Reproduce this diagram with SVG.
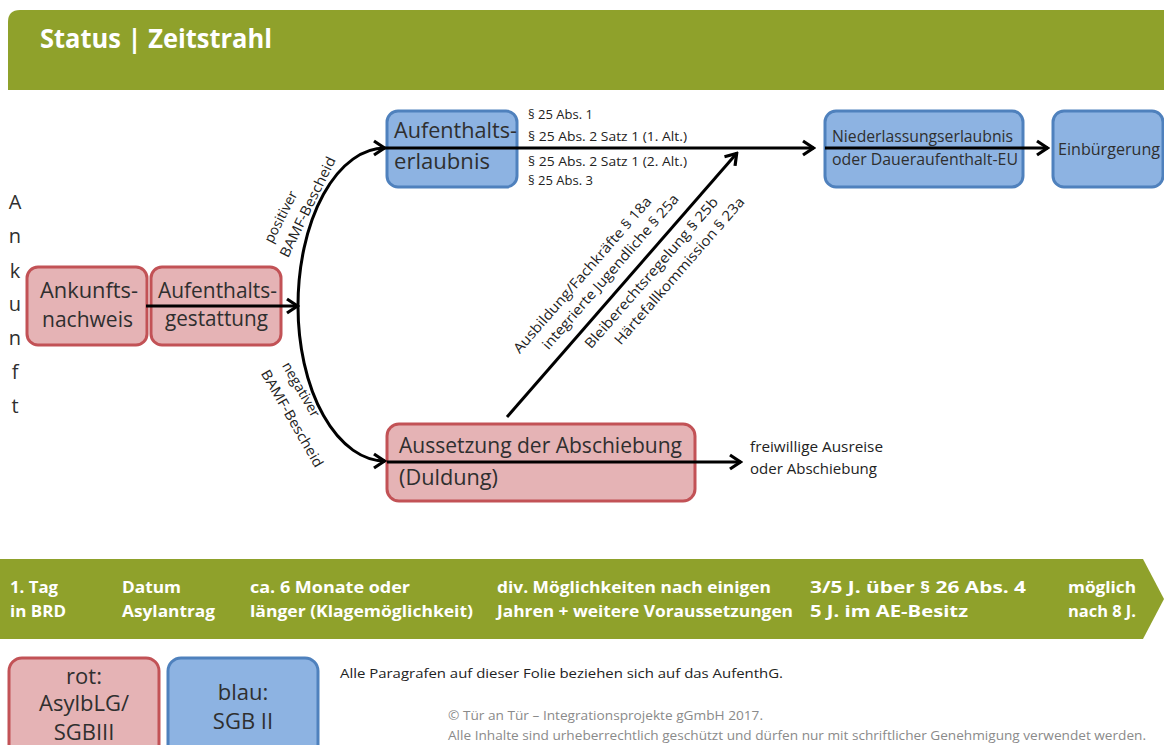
<svg xmlns="http://www.w3.org/2000/svg" width="1164" height="745" viewBox="0 0 1164 745">
<style>
text{font-family:"Open Sans","Noto Sans","Liberation Sans",sans-serif;fill:#2f2f2f}
.red{fill:#E5B3B5;stroke:#C25256;stroke-width:3}
.blue{fill:#8DB3E2;stroke:#4F81BD;stroke-width:3}
.box{font-size:21px}
.par{font-size:13px;fill:#222}
.rot{font-size:14px;fill:#222}
.band{font-size:16px;font-weight:bold;fill:#fff}
.con{fill:none;stroke:#000;stroke-width:3}
.leg{font-size:22px;text-anchor:middle}
.copy{font-size:12.5px;fill:#8a8a8a}
</style>
<defs>
<marker id="arr" viewBox="0 0 16 18" refX="14" refY="9" markerWidth="16" markerHeight="18" orient="auto" markerUnits="userSpaceOnUse">
<path d="M3,2 L13.5,9 L3,16" fill="none" stroke="#000" stroke-width="3.2"/>
</marker>
</defs>
<rect width="1164" height="745" fill="#fff"/>
<g id="header">
<path d="M8,90 L8,22 Q8,10 20,10 L1164,10 L1164,90 Z" fill="#8FA12B"/>
<text x="40" y="48" font-size="27" font-weight="bold" style="fill:#fff" textLength="232" lengthAdjust="spacingAndGlyphs">Status | Zeitstrahl</text>
</g>
<g id="ankunft" font-size="20" text-anchor="middle">
<text x="15" y="209">A</text>
<text x="15" y="243">n</text>
<text x="15" y="278">k</text>
<text x="15" y="311">u</text>
<text x="15" y="345">n</text>
<text x="15" y="379">f</text>
<text x="15" y="413">t</text>
</g>
<g id="n-ankunftsnachweis">
<rect class="red" x="27" y="267" width="120" height="78" rx="11"/>
<text class="box" x="40" y="298" textLength="98" lengthAdjust="spacingAndGlyphs">Ankunfts-</text>
<text class="box" x="42" y="327" textLength="91" lengthAdjust="spacingAndGlyphs">nachweis</text>
</g>
<g id="n-aufenthaltsgestattung">
<rect class="red" x="151" y="267" width="130" height="78" rx="11"/>
<text class="box" x="158" y="298" textLength="119" lengthAdjust="spacingAndGlyphs">Aufenthalts-</text>
<text class="box" x="165" y="326" textLength="103" lengthAdjust="spacingAndGlyphs">gestattung</text>
</g>
<g id="n-aufenthaltserlaubnis">
<rect class="blue" x="387" y="111" width="130" height="76" rx="11"/>
<text class="box" x="394" y="138" textLength="123" lengthAdjust="spacingAndGlyphs">Aufenthalts-</text>
<text class="box" x="394" y="169" textLength="96" lengthAdjust="spacingAndGlyphs">erlaubnis</text>
</g>
<g id="n-niederlassung">
<rect class="blue" x="825" y="111" width="198" height="76" rx="11"/>
<text x="832" y="142" font-size="16" textLength="181" lengthAdjust="spacingAndGlyphs">Niederlassungserlaubnis</text>
<text x="832" y="165" font-size="16" textLength="186" lengthAdjust="spacingAndGlyphs">oder Daueraufenthalt-EU</text>
</g>
<g id="n-einbuergerung">
<rect class="blue" x="1053" y="111" width="110" height="76" rx="11"/>
<text x="1058" y="155" font-size="16" textLength="102" lengthAdjust="spacingAndGlyphs">Einbürgerung</text>
</g>
<g id="n-duldung">
<rect class="red" x="387" y="424" width="308" height="77" rx="12"/>
<text class="box" x="399" y="453" textLength="283" lengthAdjust="spacingAndGlyphs">Aussetzung der Abschiebung</text>
<text class="box" x="399" y="485" textLength="99" lengthAdjust="spacingAndGlyphs">(Duldung)</text>
</g>
<g id="connectors">
<line class="con" x1="146" y1="306" x2="298" y2="306" marker-end="url(#arr)"/>
<path class="con" d="M298,306 A87,158 0 0 1 385,148" marker-end="url(#arr)"/>
<path class="con" d="M298,306 A87,155 0 0 0 385,461" marker-end="url(#arr)"/>
<line class="con" x1="385" y1="148" x2="814" y2="148" marker-end="url(#arr)"/>
<line class="con" x1="825" y1="148" x2="1048" y2="148" marker-end="url(#arr)"/>
<line class="con" x1="387" y1="462" x2="741" y2="462" marker-end="url(#arr)"/>
<line class="con" x1="507" y1="417" x2="737" y2="153" marker-end="url(#arr)"/>
</g>
<g id="labels">
<text class="par" x="528" y="119">§ 25 Abs. 1</text>
<text class="par" x="528" y="141" textLength="159" lengthAdjust="spacingAndGlyphs">§ 25 Abs. 2 Satz 1 (1. Alt.)</text>
<text class="par" x="528" y="166" textLength="159" lengthAdjust="spacingAndGlyphs">§ 25 Abs. 2 Satz 1 (2. Alt.)</text>
<text class="par" x="528" y="185">§ 25 Abs. 3</text>
<text class="rot" text-anchor="middle" transform="translate(285,219) rotate(-63)">positiver</text>
<text class="rot" text-anchor="middle" transform="translate(312,209) rotate(-64)" textLength="110" lengthAdjust="spacingAndGlyphs">BAMF-Bescheid</text>
<text class="rot" text-anchor="middle" transform="translate(297,392) rotate(60)">negativer</text>
<text class="rot" text-anchor="middle" transform="translate(288,421) rotate(60)" textLength="110" lengthAdjust="spacingAndGlyphs">BAMF-Bescheid</text>
<text class="rot" text-anchor="middle" transform="translate(586,278) rotate(-49)" textLength="202" lengthAdjust="spacingAndGlyphs">Ausbildung/Fachkräfte § 18a</text>
<text class="rot" text-anchor="middle" transform="translate(614,275) rotate(-49)" textLength="200" lengthAdjust="spacingAndGlyphs">integrierte Jugendliche § 25a</text>
<text class="rot" text-anchor="middle" transform="translate(655,276) rotate(-49)" textLength="195" lengthAdjust="spacingAndGlyphs">Bleiberechtsregelung § 25b</text>
<text class="rot" text-anchor="middle" transform="translate(683,274) rotate(-49)" textLength="190" lengthAdjust="spacingAndGlyphs">Härtefallkommission § 23a</text>
<text class="rot" x="750" y="452" textLength="133" lengthAdjust="spacingAndGlyphs">freiwillige Ausreise</text>
<text class="rot" x="750" y="474" textLength="127" lengthAdjust="spacingAndGlyphs">oder Abschiebung</text>
</g>
<g id="timeline">
<polygon points="0,559 1143,559 1164,599 1143,639 0,639" fill="#8FA12B"/>
<text class="band" x="10" y="593" textLength="48" lengthAdjust="spacingAndGlyphs">1. Tag</text>
<text class="band" x="10" y="617" textLength="56" lengthAdjust="spacingAndGlyphs">in BRD</text>
<text class="band" x="122" y="593" textLength="59" lengthAdjust="spacingAndGlyphs">Datum</text>
<text class="band" x="122" y="617" textLength="93" lengthAdjust="spacingAndGlyphs">Asylantrag</text>
<text class="band" x="250" y="593" textLength="160" lengthAdjust="spacingAndGlyphs">ca. 6 Monate oder</text>
<text class="band" x="250" y="617" textLength="223" lengthAdjust="spacingAndGlyphs">länger (Klagemöglichkeit)</text>
<text class="band" x="497" y="593" textLength="274" lengthAdjust="spacingAndGlyphs">div. Möglichkeiten nach einigen</text>
<text class="band" x="497" y="617" textLength="296" lengthAdjust="spacingAndGlyphs">Jahren + weitere Voraussetzungen</text>
<text class="band" x="810" y="593" textLength="216" lengthAdjust="spacingAndGlyphs">3/5 J. über § 26 Abs. 4</text>
<text class="band" x="810" y="617" textLength="158" lengthAdjust="spacingAndGlyphs">5 J. im AE-Besitz</text>
<text class="band" x="1068" y="593" textLength="68" lengthAdjust="spacingAndGlyphs">möglich</text>
<text class="band" x="1068" y="617" textLength="68" lengthAdjust="spacingAndGlyphs">nach 8 J.</text>
</g>
<g id="legend-rot">
<rect class="red" x="9" y="658" width="150" height="110" rx="13"/>
<text class="leg" x="84" y="684">rot:</text>
<text class="leg" x="84" y="711">AsylbLG/</text>
<text class="leg" x="84" y="740">SGBIII</text>
</g>
<g id="legend-blau">
<rect class="blue" x="168" y="658" width="150" height="110" rx="13"/>
<text class="leg" x="243" y="700">blau:</text>
<text class="leg" x="243" y="729">SGB II</text>
</g>
<g id="notes">
<text x="340" y="678" font-size="13" style="fill:#222" textLength="443" lengthAdjust="spacingAndGlyphs">Alle Paragrafen auf dieser Folie beziehen sich auf das AufenthG.</text>
<text class="copy" x="448" y="720" textLength="315" lengthAdjust="spacingAndGlyphs">© Tür an Tür – Integrationsprojekte gGmbH 2017.</text>
<text class="copy" x="448" y="740" textLength="698" lengthAdjust="spacingAndGlyphs">Alle Inhalte sind urheberrechtlich geschützt und dürfen nur mit schriftlicher Genehmigung verwendet werden.</text>
</g>
</svg>
